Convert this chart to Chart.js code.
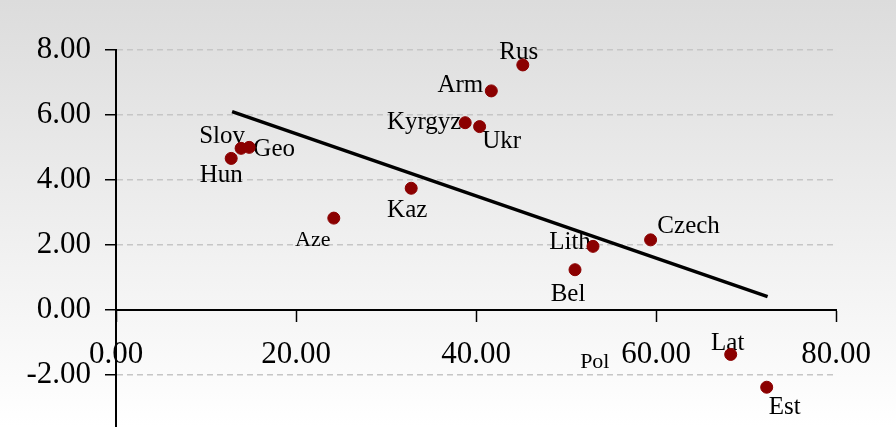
<!DOCTYPE html>
<html>
<head>
  <meta charset="UTF-8" />
  <title>Scatter</title>
  <style>html, body { margin: 0; padding: 0; background: #fff; } #wrap { width: 896px; height: 427px; }</style>
  <script src="https://cdn.jsdelivr.net/npm/chart.js"></script>
</head>
<body>
  <div id="wrap"><canvas id="chart" width="896" height="427"></canvas></div>
  <script>
    // values
    const countries = ["Rus", "Arm", "Kyrgyz", "Ukr", "Slov", "Geo", "Hun", "Kaz", "Aze", "Lith", "Bel", "Czech", "Lat", "Est"];
    const xValues = [45.2, 41.7, 38.8, 40.4, 13.9, 14.8, 12.8, 32.8, 24.2, 53.0, 51.0, 59.4, 68.3, 72.3];
    const yValues = [7.54, 6.74, 5.76, 5.64, 4.97, 5.00, 4.66, 3.74, 2.82, 1.95, 1.23, 2.15, -1.38, -2.39];
    const trendX = [12.9, 72.4];
    const trendY = [6.10, 0.40];
    const xTicks = [0, 20, 40, 60, 80];
    const yTicks = [-2, 0, 2, 4, 6, 8];

    // label placement (pixel offset from the point, font size)
    const labelPos = {
      Rus: [-4, -12, 25], Arm: [-31, -5, 25], Kyrgyz: [-41, 0, 25], Ukr: [22, 15, 25],
      Slov: [-19, -12, 25], Geo: [25, 2, 25], Hun: [-10, 17, 25], Kaz: [-4, 22, 25],
      Aze: [-21, 22, 22], Lith: [-23, -4, 25], Bel: [-7, 25, 25], Czech: [38, -13, 25],
      Lat: [-3, -11, 25], Est: [18, 20, 25]
    };
    const freeLabels = [{ text: "Pol", x: 53.2, y: -1.62, size: 22 }];

    const serif = '"Liberation Serif", "Times New Roman", serif';

    const bgPlugin = {
      id: "bg",
      beforeDraw(chart) {
        const c = chart.ctx;
        const g = c.createLinearGradient(0, 0, 0, chart.height);
        g.addColorStop(0, "#dcdcdc");
        g.addColorStop(1, "#ffffff");
        c.save();
        c.fillStyle = g;
        c.fillRect(0, 0, chart.width, chart.height);
        c.restore();
      },
      afterDraw(chart) {
        // the value axis runs on to the bottom edge
        const c = chart.ctx, a = chart.chartArea;
        c.save();
        c.strokeStyle = "#000";
        c.lineWidth = 2;
        c.beginPath();
        c.moveTo(a.left, a.bottom - 1);
        c.lineTo(a.left, chart.height);
        c.stroke();
        c.restore();
      }
    };

    const labelPlugin = {
      id: "labels",
      beforeDatasetsDraw(chart) {
        const c = chart.ctx;
        const xs = chart.scales.x, ys = chart.scales.y;
        c.save();
        c.fillStyle = "#000";
        c.textAlign = "center";
        c.textBaseline = "middle";
        countries.forEach((name, i) => {
          const p = labelPos[name];
          c.font = p[2] + "px " + serif;
          c.fillText(name, xs.getPixelForValue(xValues[i]) + p[0], ys.getPixelForValue(yValues[i]) + p[1]);
        });
        freeLabels.forEach(l => {
          c.font = l.size + "px " + serif;
          c.fillText(l.text, xs.getPixelForValue(l.x), ys.getPixelForValue(l.y));
        });
        c.restore();
      }
    };

    new Chart(document.getElementById("chart"), {
      type: "scatter",
      data: {
        datasets: [
          {
            data: countries.map((c, i) => ({ x: xValues[i], y: yValues[i] })),
            backgroundColor: "#8b0000",
            borderColor: "#8b0000",
            pointRadius: 6,
            pointHoverRadius: 6
          },
          {
            type: "line",
            data: trendX.map((x, i) => ({ x, y: trendY[i] })),
            borderColor: "#000",
            borderWidth: 3.5,
            pointRadius: 0,
            fill: false
          }
        ]
      },
      options: {
        responsive: false,
        animation: false,
        layout: { padding: { top: 50, right: 60, bottom: 0, left: 0 } },
        plugins: { legend: { display: false }, tooltip: { enabled: false } },
        scales: {
          x: {
            type: "linear",
            min: 0, max: 80,
            position: { y: 0 },
            afterBuildTicks: s => { s.ticks = xTicks.map(v => ({ value: v })); },
            ticks: { callback: v => v.toFixed(2), color: "#000", font: { family: serif, size: 31 }, padding: 16, maxRotation: 0 },
            grid: { drawOnChartArea: false, tickLength: 11, tickColor: "#000", tickWidth: 1.5 },
            border: { color: "#000", width: 2 }
          },
          y: {
            min: -3.4, max: 8,
            afterBuildTicks: s => { s.ticks = yTicks.map(v => ({ value: v })); },
            afterFit: s => { s.width = 116; s.paddingTop = 0; s.paddingBottom = 0; },
            ticks: { callback: v => v.toFixed(2), color: "#000", font: { family: serif, size: 31 }, padding: 14 },
            grid: {
              color: ctx => (ctx.tick && ctx.tick.value === 0) ? "rgba(0,0,0,0)" : "#c6c6c6",
              lineWidth: 1.5, tickLength: 11, tickColor: "#000", tickWidth: 1.5, tickBorderDash: []
            },
            border: { color: "#000", width: 2, dash: [6, 4] }
          }
        }
      },
      plugins: [bgPlugin, labelPlugin]
    });
  </script>
</body>
</html>
